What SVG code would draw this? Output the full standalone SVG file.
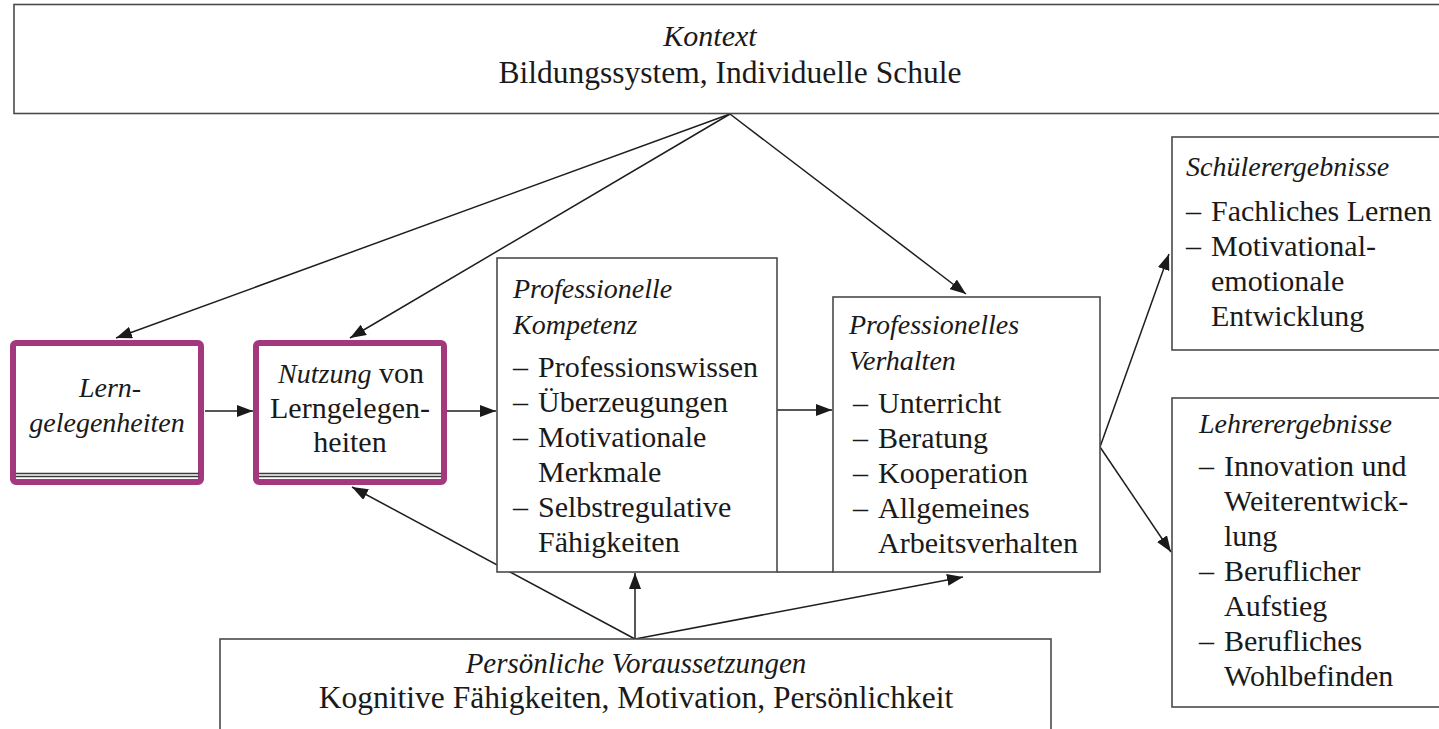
<svg xmlns="http://www.w3.org/2000/svg" width="1439" height="729" viewBox="0 0 1439 729">
  <style>
    .box { fill: #ffffff; stroke: #4a4a4a; stroke-width: 1.6; }
    .hl { fill: #ffffff; stroke: #a4387f; stroke-width: 6; }
    .rule { stroke: #3a3a3a; stroke-width: 1.3; }
    .conn { stroke: #1e1e1e; stroke-width: 1.5; fill: none; marker-end: url(#ah); }
    .plain { stroke: #3a3a3a; stroke-width: 1.5; fill: none; }
    text { font-family: "Liberation Serif", "Times New Roman", serif; fill: #1a1a1a; font-size: 30px; }
    .it { font-style: italic; font-size: 28px; }
    .c { text-anchor: middle; }
    .wide { font-size: 31.5px; }
  </style>
  <defs>
    <marker id="ah" viewBox="0 0 16 12" refX="16" refY="6" markerWidth="16" markerHeight="12" orient="auto" markerUnits="userSpaceOnUse">
      <path d="M0,0 L16,6 L0,12 z" fill="#1a1a1a"/>
    </marker>
  </defs>

  <rect width="1439" height="729" fill="#ffffff"/>

  <!-- connectors (drawn beneath the boxes) -->
  <g id="connectors">
    <line class="conn" x1="730" y1="114" x2="116" y2="338"/>
    <line class="conn" x1="730" y1="114" x2="350" y2="338"/>
    <line class="conn" x1="730" y1="114" x2="966" y2="294"/>
    <line class="conn" x1="205" y1="411" x2="253" y2="411"/>
    <line class="conn" x1="447" y1="411" x2="496" y2="411"/>
    <line class="conn" x1="777" y1="410" x2="832" y2="410"/>
    <line class="conn" x1="1100" y1="447" x2="1169" y2="254"/>
    <line class="conn" x1="1100" y1="447" x2="1171" y2="552"/>
    <line class="conn" x1="635" y1="639" x2="635" y2="573"/>
    <line class="conn" x1="635" y1="639" x2="352" y2="487"/>
    <line class="conn" x1="635" y1="639" x2="963" y2="577"/>
  </g>

  <!-- Kontext -->
  <g id="kontext">
    <rect class="box" x="14" y="4.5" width="1440" height="109"/>
    <text class="it c" x="710" y="46" style="font-size:30px">Kontext</text>
    <text class="c wide" x="730" y="83">Bildungssystem, Individuelle Schule</text>
  </g>

  <!-- Lerngelegenheiten -->
  <g id="lerngelegenheiten">
    <rect class="hl" x="13" y="343" width="188" height="139" rx="3"/>
    <line class="rule" x1="16" y1="473.5" x2="199" y2="473.5"/>
    <line class="rule" x1="16" y1="476.5" x2="199" y2="476.5"/>
    <text class="it c" x="110" y="397">Lern-</text>
    <text class="it c" x="107" y="432">gelegenheiten</text>
  </g>

  <!-- Nutzung von Lerngelegenheiten -->
  <g id="nutzung">
    <rect class="hl" x="256" y="343" width="188" height="139" rx="3"/>
    <line class="rule" x1="259" y1="473.5" x2="441" y2="473.5"/>
    <line class="rule" x1="259" y1="476.5" x2="441" y2="476.5"/>
    <text class="c" x="351" y="383"><tspan font-style="italic" font-size="28">Nutzung</tspan> von</text>
    <text class="c" x="350" y="418">Lerngelegen-</text>
    <text class="c" x="350" y="452">heiten</text>
  </g>

  <!-- Professionelle Kompetenz -->
  <g id="kompetenz">
    <rect class="box" x="497" y="258" width="280" height="314"/>
    <text class="it" x="513" y="298">Professionelle</text>
    <text class="it" x="513" y="334">Kompetenz</text>
    <text y="377"><tspan x="513">–</tspan><tspan x="538">Professionswissen</tspan></text>
    <text y="412"><tspan x="513">–</tspan><tspan x="538">Überzeugungen</tspan></text>
    <text y="447"><tspan x="513">–</tspan><tspan x="538">Motivationale</tspan></text>
    <text x="538" y="482">Merkmale</text>
    <text y="517"><tspan x="513">–</tspan><tspan x="538">Selbstregulative</tspan></text>
    <text x="538" y="552">Fähigkeiten</text>
  </g>

  <!-- Professionelles Verhalten -->
  <g id="verhalten">
    <rect class="box" x="833" y="297" width="267" height="275"/>
    <text class="it" x="849" y="334">Professionelles</text>
    <text class="it" x="849" y="370">Verhalten</text>
    <text y="413"><tspan x="853">–</tspan><tspan x="878">Unterricht</tspan></text>
    <text y="448"><tspan x="853">–</tspan><tspan x="878">Beratung</tspan></text>
    <text y="483"><tspan x="853">–</tspan><tspan x="878">Kooperation</tspan></text>
    <text y="518"><tspan x="853">–</tspan><tspan x="878">Allgemeines</tspan></text>
    <text x="878" y="553">Arbeitsverhalten</text>
  </g>
  <line class="plain" x1="777" y1="572" x2="833" y2="572"/>

  <!-- Schülerergebnisse -->
  <g id="schuelerergebnisse">
    <rect class="box" x="1172" y="137" width="290" height="213"/>
    <text class="it" x="1186" y="176">Schülerergebnisse</text>
    <text y="221"><tspan x="1186">–</tspan><tspan x="1211">Fachliches Lernen</tspan></text>
    <text y="256"><tspan x="1186">–</tspan><tspan x="1211">Motivational-</tspan></text>
    <text x="1211" y="291">emotionale</text>
    <text x="1211" y="326">Entwicklung</text>
  </g>

  <!-- Lehrerergebnisse -->
  <g id="lehrerergebnisse">
    <rect class="box" x="1172" y="398" width="290" height="309"/>
    <text class="it" x="1199" y="433">Lehrerergebnisse</text>
    <text y="476"><tspan x="1199">–</tspan><tspan x="1224">Innovation und</tspan></text>
    <text x="1224" y="511">Weiterentwick-</text>
    <text x="1224" y="546">lung</text>
    <text y="581"><tspan x="1199">–</tspan><tspan x="1224">Beruflicher</tspan></text>
    <text x="1224" y="616">Aufstieg</text>
    <text y="651"><tspan x="1199">–</tspan><tspan x="1224">Berufliches</tspan></text>
    <text x="1224" y="686">Wohlbefinden</text>
  </g>

  <!-- Persönliche Voraussetzungen -->
  <g id="voraussetzungen">
    <rect class="box" x="220" y="639" width="831" height="110"/>
    <text class="it c" x="636" y="673" style="font-size:29px">Persönliche Voraussetzungen</text>
    <text class="c wide" x="636" y="708">Kognitive Fähigkeiten, Motivation, Persönlichkeit</text>
  </g>
</svg>
